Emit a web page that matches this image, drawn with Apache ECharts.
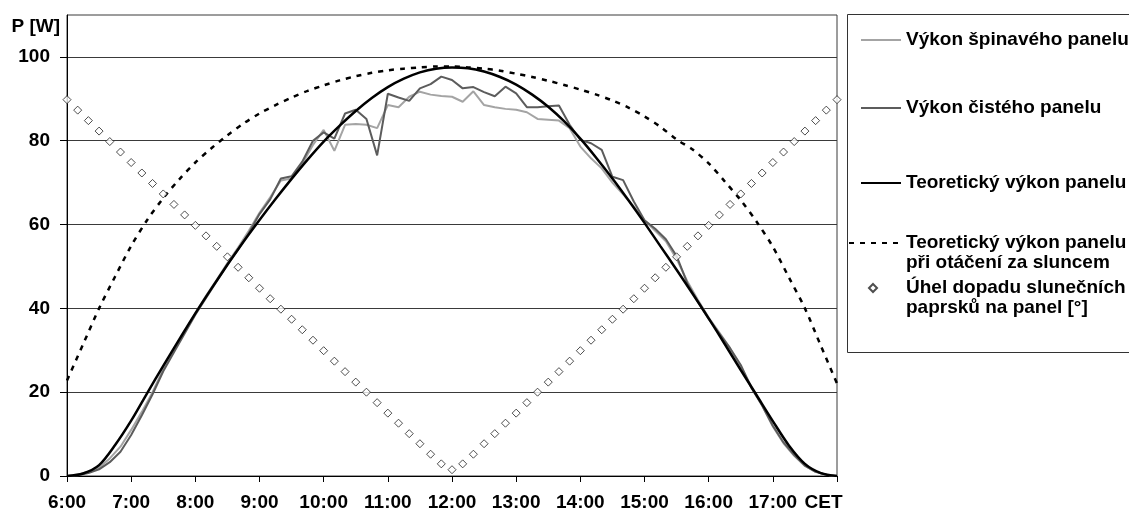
<!DOCTYPE html>
<html><head><meta charset="utf-8">
<script src="https://cdn.jsdelivr.net/npm/echarts@6/dist/echarts.min.js"></script>
<style>html,body{margin:0;padding:0;background:#fff}#c{width:1129px;height:514px}</style>
</head><body><div id="c"></div>
<script>
const FONT = '"Liberation Sans", Arial, sans-serif';
const yTicks = [0, 20, 40, 60, 80, 100];
const names = [
  'Výkon špinavého panelu',
  'Výkon čistého panelu',
  'Teoretický výkon panelu',
  'Teoretický výkon panelu\npři otáčení za sluncem',
  'Úhel dopadu slunečních\npaprsků na panel [°]'
];
// measured every 10 minutes from 6:00 to 18:00
const dirtyPanel = [0, 0.3, 1, 2.0, 4.2, 7.0, 11, 15.3, 20, 25.5, 30, 34.5, 38.8, 43, 46.8, 50.8, 54.5, 58.5, 62.8, 66.5, 70.5, 71, 74.5, 79, 82.6, 77.6, 83.8, 84, 83.8, 83, 88.5, 88, 90.5, 91.7, 91, 90.7, 90.5, 89.3, 91.8, 88.5, 88, 87.6, 87.4, 86.8, 85.2, 85, 84.8, 83, 78.6, 75.8, 73.4, 70, 67.2, 64.3, 61, 58.5, 56, 51.8, 46.5, 42, 37.8, 34.2, 30.5, 26.2, 21.3, 16.8, 11.8, 7.8, 4.8, 2.4, 1.0, 0.3, 0];
const cleanPanel = [0, 0.2, 0.7, 1.6, 3.3, 5.8, 9.8, 14.5, 19.5, 25, 29.5, 34, 38.5, 42.5, 46.5, 50.5, 54, 58, 62.5, 66, 71, 71.5, 75, 80, 82, 80.5, 86.5, 87.4, 85.2, 76.5, 91.2, 90.3, 89.5, 92.5, 93.5, 95.3, 94.5, 92.5, 92.8, 91.6, 90.6, 92.9, 91.3, 88, 88, 88.2, 88.4, 83.8, 80.2, 79.4, 77.8, 71.4, 70.6, 65.5, 61, 59, 56.5, 52.5, 46, 41.5, 37.5, 34, 30.5, 26.5, 21, 16.8, 12, 8, 5, 2.5, 1, 0.3, 0];
const incidenceAngle = [89.8, 87.3, 84.8, 82.3, 79.8, 77.3, 74.8, 72.3, 69.8, 67.3, 64.8, 62.3, 59.8, 57.3, 54.8, 52.3, 49.8, 47.3, 44.8, 42.3, 39.8, 37.4, 34.9, 32.4, 29.9, 27.4, 24.9, 22.4, 20.0, 17.5, 15.0, 12.6, 10.1, 7.7, 5.2, 2.9, 1.5, 2.9, 5.2, 7.7, 10.1, 12.6, 15.0, 17.5, 20.0, 22.4, 24.9, 27.4, 29.9, 32.4, 34.9, 37.4, 39.8, 42.3, 44.8, 47.3, 49.8, 52.3, 54.8, 57.3, 59.8, 62.3, 64.8, 67.3, 69.8, 72.3, 74.8, 77.3, 79.8, 82.3, 84.8, 87.3, 89.8];
// theoretical every 15 minutes from 6:00 to 18:00
const theoretical = [0, 0.6, 2.6, 7.4, 13.2, 19.8, 26.3, 32.6, 38.8, 44.7, 50.4, 55.9, 61.1, 66.1, 70.9, 75.5, 79.8, 83.6, 87.1, 90.2, 92.8, 94.8, 96.3, 97.2, 97.5, 97.3, 96.5, 95.2, 93.4, 91.0, 88.1, 84.6, 80.5, 75.9, 71.0, 65.8, 60.4, 54.8, 49.2, 43.5, 37.6, 31.5, 25.3, 19.2, 13.1, 7.3, 2.9, 0.7, 0];
const tracking = [22.8, 31.4, 40.0, 47.6, 54.9, 61.1, 66.3, 70.8, 74.8, 78.2, 81.3, 84.1, 86.5, 88.5, 90.3, 91.9, 93.2, 94.4, 95.4, 96.2, 96.8, 97.2, 97.5, 97.7, 97.7, 97.5, 97.2, 96.7, 96.0, 95.2, 94.3, 93.3, 92.2, 91.0, 89.6, 87.9, 85.8, 83.3, 80.3, 77.9, 74.6, 70.3, 65.8, 60.6, 54.7, 47.4, 40.0, 31.0, 22.1];

const START = 6;
const tenMin = arr => arr.map((v, i) => [START + i / 6, v]);
const quarter = arr => arr.map((v, i) => [START + i / 4, v]);

const txt = {color: '#000', fontFamily: FONT, fontWeight: 'bold', fontSize: 19};
const legTxt = Object.assign({}, txt, {lineHeight: 20});
const noSym = {color: 'rgba(0,0,0,0)', borderColor: 'rgba(0,0,0,0)', borderWidth: 0, opacity: 0};
const legBase = {orient: 'vertical', padding: 0, selectedMode: false, itemGap: 0};
const twoLine = n => ' \n' + n;

const chart = echarts.init(document.getElementById('c'), null, {renderer: 'canvas'});
chart.setOption({
  animation: false,
  backgroundColor: '#fff',
  grid: {left: 67, right: 292, top: 15, bottom: 38, show: true, borderColor: '#3a3a3a', borderWidth: 1},
  xAxis: {
    type: 'value', min: 6, max: 18, interval: 1,
    axisLine: {lineStyle: {color: '#000', width: 1}},
    axisTick: {show: true, length: 6, lineStyle: {color: '#000'}},
    splitLine: {show: false},
    axisLabel: Object.assign({}, txt, {
      margin: 17,
      formatter: v => v === 18 ? '{cet|CET}' : v + ':00',
      rich: {cet: Object.assign({}, txt, {padding: [0, 27, 4, 0]})}
    })
  },
  yAxis: {
    type: 'value', min: 0, max: 110, interval: 20,
    name: 'P [W]', nameLocation: 'end', nameGap: -22,
    nameTextStyle: Object.assign({}, txt, {align: 'right', verticalAlign: 'bottom', padding: [0, 7, 0, 0], lineHeight: 20}),
    axisLine: {show: true, lineStyle: {color: '#000', width: 1}},
    axisTick: {show: true, length: 7, lineStyle: {color: '#000'}, customValues: yTicks},
    splitLine: {show: true, lineStyle: {color: '#3a3a3a', width: 1}},
    axisLabel: Object.assign({}, txt, {margin: 17, customValues: yTicks})
  },
  legend: [
    Object.assign({}, legBase, {data: [names[0]], left: 860, top: 30, itemWidth: 40, itemHeight: 14, textStyle: legTxt, itemStyle: noSym}),
    Object.assign({}, legBase, {data: [names[1]], left: 860, top: 98, itemWidth: 40, itemHeight: 14, textStyle: legTxt, itemStyle: noSym}),
    Object.assign({}, legBase, {data: [names[2]], left: 860, top: 173, itemWidth: 40, itemHeight: 14, textStyle: legTxt, itemStyle: noSym}),
    Object.assign({}, legBase, {data: [names[3]], left: 848, top: 213, itemWidth: 52, itemHeight: 14, textStyle: legTxt, itemStyle: noSym, formatter: twoLine}),
    Object.assign({}, legBase, {data: [names[4]], left: 868, top: 258, itemWidth: 8, itemHeight: 8, formatter: twoLine,
      textStyle: Object.assign({}, legTxt, {padding: [0, 0, 0, 24]})})
  ],
  graphic: [{
    type: 'rect', shape: {x: 847.5, y: 14.5, width: 320, height: 338},
    style: {fill: 'none', stroke: '#333', lineWidth: 1}, silent: true
  }],
  series: [
    {name: names[0], type: 'line', data: tenMin(dirtyPanel), symbol: 'none',
     lineStyle: {color: '#a4a4a4', width: 2}, itemStyle: {color: '#a4a4a4'}, z: 2},
    {name: names[1], type: 'line', data: tenMin(cleanPanel), symbol: 'none',
     lineStyle: {color: '#5c5c5c', width: 2}, itemStyle: {color: '#5c5c5c'}, z: 3},
    {name: names[2], type: 'line', data: quarter(theoretical), symbol: 'none', smooth: 0.3,
     lineStyle: {color: '#000', width: 2.5}, itemStyle: {color: '#000'}, z: 4},
    {name: names[3], type: 'line', data: quarter(tracking), symbol: 'none', smooth: 0.3,
     lineStyle: {color: '#000', width: 2.5, type: [5, 6]}, itemStyle: {color: '#000'}, z: 4},
    {name: names[4], type: 'scatter', data: tenMin(incidenceAngle), symbol: 'diamond', symbolSize: 8,
     itemStyle: {color: '#fff', borderColor: '#222', borderWidth: 1}, z: 5}
  ]
});
</script></body></html>
